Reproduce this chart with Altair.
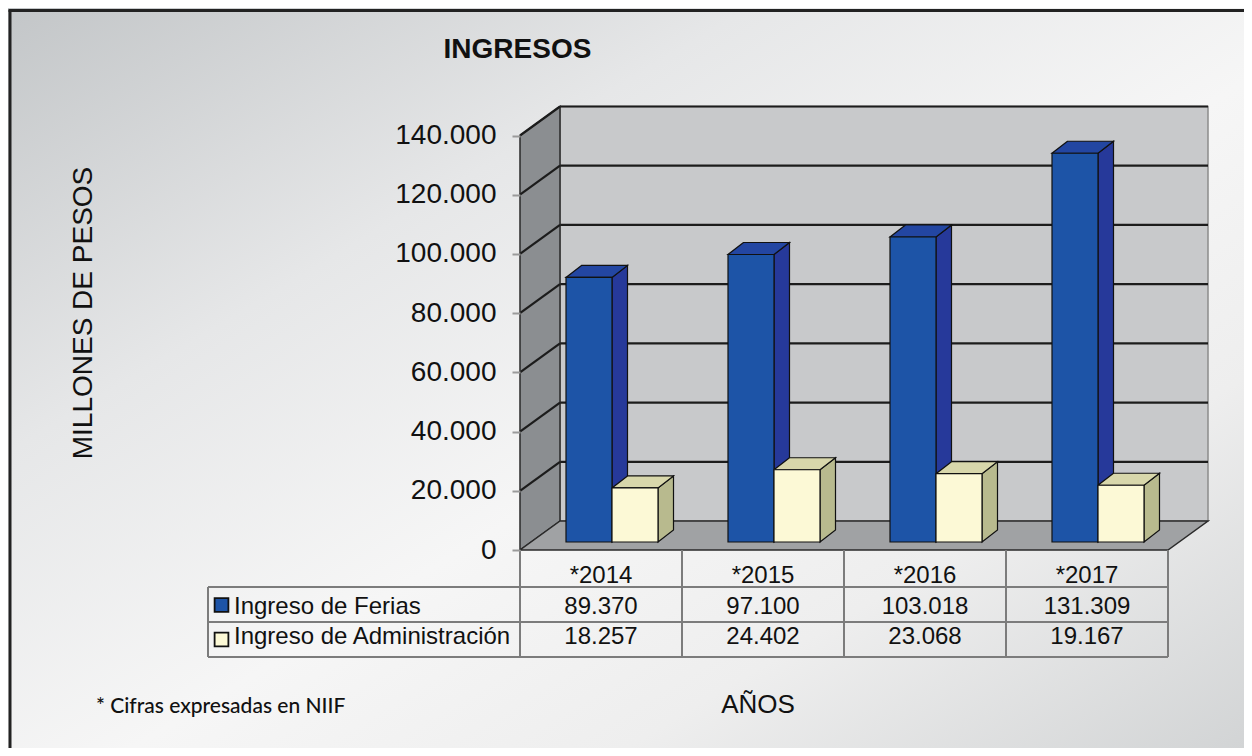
import altair as alt
import pandas as pd

# ---------------- data ----------------
years = ["*2014", "*2015", "*2016", "*2017"]
series_names = ["Ingreso de Ferias", "Ingreso de Administración"]
ferias = [89370, 97100, 103018, 131309]
administracion = [18257, 24402, 23068, 19167]
y_ticks = [0, 20000, 40000, 60000, 80000, 100000, 120000, 140000]

# ---------------- layout / style constants (pixels) ----------------
W, H = 1236, 740
X0_PX = 512            # view x of the first category's left edge (front plane)
CAT_PX = 162           # width of one category
Y0_PX = 542            # view y of value 0
PX_PER_VAL = 414.5 / 140000

FONT = "Liberation Sans"
BLUE_FRONT, BLUE_SIDE, BLUE_TOP = "#1d54a7", "#26399a", "#2346a2"
CREAM_FRONT, CREAM_SIDE, CREAM_TOP = "#fcf9d6", "#b8ba8e", "#d8d7ab"
BACK_WALL, SIDE_WALL, FLOOR = "#c8c9cb", "#8b8e91", "#a0a2a4"
GRID = "#1c1c1c"
TABLE_LINE = "#7c7c7c"


def ux(px):
    return px / CAT_PX


def vy(px):
    return px / PX_PER_VAL


xs = alt.Scale(domain=[-X0_PX / CAT_PX, (W - X0_PX) / CAT_PX], nice=False, zero=False)
ys = alt.Scale(domain=[-(H - Y0_PX) / PX_PER_VAL, Y0_PX / PX_PER_VAL], nice=False, zero=False)

n = len(years)
WDX, WDY = ux(40), vy(29)        # wall depth
BW = ux(46)                      # bar width
SX, SY = ux(11), vy(8)           # bar plane shift
DX, DY = ux(15.5), vy(12)        # bar depth
YMAX = y_ticks[-1]
TABLE_LEFT = ux(200 - X0_PX)     # left edge of the row-label column

y_axis = alt.Axis(
    values=y_ticks,
    labelExpr="replace(format(datum.value, ','), ',', '.')",
    offset=-X0_PX,
    domain=False,
    grid=False,
    ticks=True,
    tickSize=8,
    tickWidth=2,
    tickColor="#9a9a9a",
    labelFont=FONT,
    labelFontSize=28,
    labelColor="#111111",
    labelPadding=16,
    title=None,
    zindex=1,
)

one = pd.DataFrame({"k": [0]})

# ---------------- background + frame ----------------
gradient = alt.LinearGradient(
    gradient="linear",
    x1=0, y1=0, x2=1, y2=1,
    stops=[
        alt.GradientStop(color="#c3c6c8", offset=0),
        alt.GradientStop(color="#e6e7e8", offset=0.3),
        alt.GradientStop(color="#f6f6f6", offset=0.55),
        alt.GradientStop(color="#eeeeee", offset=0.75),
        alt.GradientStop(color="#d2d4d5", offset=1),
    ],
)
bg = alt.Chart(one).mark_rect(fill=gradient).encode(
    x=alt.value(0), x2=alt.value(W), y=alt.value(0), y2=alt.value(H)
)

# ---------------- 3D box ----------------
wall_df = pd.DataFrame({"x0": [WDX], "x1": [n + WDX], "y0": [WDY], "y1": [YMAX + WDY]})
back_wall = alt.Chart(wall_df).mark_rect(fill=BACK_WALL, stroke="#8c8c8c", strokeWidth=1.5).encode(
    x=alt.X("x0:Q", scale=xs, axis=None), x2="x1",
    y=alt.Y("y0:Q", scale=ys, axis=y_axis), y2="y1",
)

grid_df = pd.DataFrame({
    "xa": [0.0] * (len(y_ticks) - 1),
    "xb": [WDX] * (len(y_ticks) - 1),
    "xe": [n + WDX] * (len(y_ticks) - 1),
    "ya": y_ticks[1:],
    "yb": [t + WDY for t in y_ticks[1:]],
})
back_grid = alt.Chart(grid_df).mark_rule(color=GRID, strokeWidth=2.2).encode(
    x=alt.X("xb:Q", scale=xs, axis=None), x2="xe",
    y=alt.Y("yb:Q", scale=ys, axis=y_axis),
)

side_df = pd.DataFrame({"x": [0.0, WDX], "lo": [0.0, WDY], "hi": [YMAX, YMAX + WDY]})
side_wall = alt.Chart(side_df).mark_area(
    orient="vertical", fill=SIDE_WALL, stroke="#2a2a2a", strokeWidth=1.5
).encode(
    x=alt.X("x:Q", scale=xs, axis=None),
    y=alt.Y("hi:Q", scale=ys, axis=y_axis), y2="lo",
)

slant_grid = alt.Chart(grid_df).mark_rule(color=GRID, strokeWidth=2.2).encode(
    x=alt.X("xa:Q", scale=xs, axis=None), x2="xb",
    y=alt.Y("ya:Q", scale=ys, axis=y_axis), y2="yb",
)

floor_df = pd.DataFrame({"y": [0.0, WDY], "xa": [0.0, WDX], "xb": [float(n), n + WDX]})
floor = alt.Chart(floor_df).mark_area(
    orient="horizontal", fill=FLOOR, stroke="#2a2a2a", strokeWidth=1.5
).encode(
    y=alt.Y("y:Q", scale=ys, axis=y_axis),
    x=alt.X("xa:Q", scale=xs, axis=None), x2="xb",
)

# ---------------- bars ----------------
front_rows, side_rows, top_rows = [], [], []
for i in range(n):
    for s, vals in enumerate([ferias, administracion]):
        v = vals[i]
        c = i + 0.5 + SX
        x0 = c - BW if s == 0 else c
        x1 = x0 + BW
        bid = f"{i}-{s}"
        name = series_names[s]
        front_rows.append(dict(bar=bid, serie=name, x0=x0, x1=x1, lo=SY, hi=v + SY))
        side_rows.append(dict(bar=bid, serie=name, x=x1, lo=SY, hi=v + SY))
        side_rows.append(dict(bar=bid, serie=name, x=x1 + DX, lo=SY + DY, hi=v + SY + DY))
        top_rows.append(dict(bar=bid, serie=name, y=v + SY, xa=x0, xb=x1))
        top_rows.append(dict(bar=bid, serie=name, y=v + SY + DY, xa=x0 + DX, xb=x1 + DX))

front_df = pd.DataFrame(front_rows)
sides_df = pd.DataFrame(side_rows)
tops_df = pd.DataFrame(top_rows)

fronts_c = [BLUE_FRONT, CREAM_FRONT]
sides_c = [BLUE_SIDE, CREAM_SIDE]
tops_c = [BLUE_TOP, CREAM_TOP]

bar_layers = []
for s, name in enumerate(series_names):
    bar_layers.append(
        alt.Chart(sides_df[sides_df.serie == name]).mark_area(
            orient="vertical", fill=sides_c[s], stroke="#111111", strokeWidth=1.2
        ).encode(
            x=alt.X("x:Q", scale=xs, axis=None),
            y=alt.Y("hi:Q", scale=ys, axis=y_axis), y2="lo",
            detail="bar:N",
        )
    )
for s, name in enumerate(series_names):
    bar_layers.append(
        alt.Chart(tops_df[tops_df.serie == name]).mark_area(
            orient="horizontal", fill=tops_c[s], stroke="#111111", strokeWidth=1.2
        ).encode(
            y=alt.Y("y:Q", scale=ys, axis=y_axis),
            x=alt.X("xa:Q", scale=xs, axis=None), x2="xb",
            detail="bar:N",
        )
    )
for s, name in enumerate(series_names):
    bar_layers.append(
        alt.Chart(front_df[front_df.serie == name]).mark_rect(
            fill=fronts_c[s], stroke="#111111", strokeWidth=1.2
        ).encode(
            x=alt.X("x0:Q", scale=xs, axis=None), x2="x1",
            y=alt.Y("lo:Q", scale=ys, axis=y_axis), y2="hi",
        )
    )

# ---------------- data table ----------------
col_df = pd.DataFrame({"i": list(range(n + 1))})
table_layers = [
    alt.Chart(col_df).mark_rule(color=TABLE_LINE, strokeWidth=2).encode(
        x=alt.X("i:Q", scale=xs, axis=None), y=alt.value(542), y2=alt.value(649)
    ),
    alt.Chart(one).mark_rule(color=TABLE_LINE, strokeWidth=2).encode(
        x=alt.X(datum=TABLE_LEFT, scale=xs, axis=None), y=alt.value(579), y2=alt.value(649)
    ),
]
row_lines = pd.DataFrame({"xa": [TABLE_LEFT] * 3, "xb": [float(n)] * 3, "k": [0, 1, 2]})
for yy in [579, 614, 649]:
    table_layers.append(
        alt.Chart(row_lines.head(1)).mark_rule(color=TABLE_LINE, strokeWidth=2).encode(
            x=alt.X("xa:Q", scale=xs, axis=None), x2="xb", y=alt.value(yy)
        )
    )

hdr_df = pd.DataFrame({"xc": [i + 0.5 for i in range(n)], "label": years})
table_layers.append(
    alt.Chart(hdr_df).mark_text(font=FONT, fontSize=24, color="#111111", baseline="alphabetic").encode(
        x=alt.X("xc:Q", scale=xs, axis=None), y=alt.value(575), text="label:N"
    )
)

legend_sq = [BLUE_FRONT, CREAM_FRONT]
row_base = [606, 636]
row_center = [597, 631.5]
for s, vals in enumerate([ferias, administracion]):
    val_df = pd.DataFrame({
        "xc": [i + 0.5 for i in range(n)],
        "txt": [f"{v:,}".replace(",", ".") for v in vals],
    })
    table_layers.append(
        alt.Chart(val_df).mark_text(font=FONT, fontSize=24, color="#111111", baseline="alphabetic").encode(
            x=alt.X("xc:Q", scale=xs, axis=None), y=alt.value(row_base[s]), text="txt:N"
        )
    )
    table_layers.append(
        alt.Chart(one).mark_text(
            text=series_names[s], font=FONT, fontSize=24, color="#111111",
            align="left", baseline="alphabetic"
        ).encode(x=alt.value(226), y=alt.value(row_base[s]))
    )
    table_layers.append(
        alt.Chart(one).mark_square(
            size=190, fill=legend_sq[s], stroke="#111111", strokeWidth=1.8, opacity=1
        ).encode(x=alt.value(213.5), y=alt.value(row_center[s]))
    )

# ---------------- texts ----------------
texts = [
    alt.Chart(one).mark_text(
        text="INGRESOS", font=FONT, fontSize=28, fontWeight="bold", color="#111111",
        align="center", baseline="alphabetic"
    ).encode(x=alt.value(509.5), y=alt.value(50)),
    alt.Chart(one).mark_text(
        text="MILLONES DE PESOS", font=FONT, fontSize=28, color="#111111",
        angle=270, align="center", baseline="middle"
    ).encode(x=alt.value(76), y=alt.value(305)),
    alt.Chart(one).mark_text(
        text="AÑOS", font=FONT, fontSize=26, color="#111111",
        align="center", baseline="alphabetic"
    ).encode(x=alt.value(750), y=alt.value(705)),
    alt.Chart(one).mark_text(
        text="* Cifras expresadas en NIIF", font="Lato", fontSize=21, fontWeight=500,
        color="#111111", align="left", baseline="alphabetic"
    ).encode(x=alt.value(88), y=alt.value(705)),
]

frame = [
    alt.Chart(one).mark_rule(color="#222222", strokeWidth=3).encode(
        x=alt.value(2), y=alt.value(2), y2=alt.value(H)
    ),
    alt.Chart(one).mark_rule(color="#222222", strokeWidth=3).encode(
        x=alt.value(0.5), x2=alt.value(W), y=alt.value(2.5)
    ),
]

chart = alt.layer(
    bg, back_wall, back_grid, side_wall, slant_grid, floor,
    *bar_layers, *table_layers, *texts, *frame
).properties(
    width=W, height=H, padding=0,
    autosize=alt.AutoSizeParams(type="none"),
).configure_view(stroke=None)

chart.save("out.html", embed_options={"renderer": "svg", "actions": False})
